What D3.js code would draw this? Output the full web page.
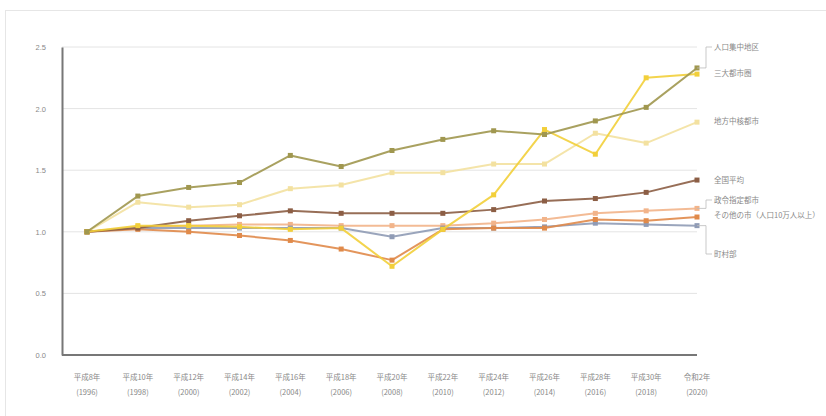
<!DOCTYPE html>
<html><head><meta charset="utf-8">
<script src="https://cdn.jsdelivr.net/npm/d3@7"></script>
<style>
html,body{margin:0;padding:0;background:#fff;}
svg{display:block;font-family:"Noto Sans CJK JP","Noto Sans",sans-serif;}
</style></head>
<body><svg id="c" width="826" height="416"></svg>
<script>
const categories = ["平成8年","平成10年","平成12年","平成14年","平成16年","平成18年","平成20年","平成22年","平成24年","平成26年","平成28年","平成30年","令和2年"];
const years = ["(1996)","(1998)","(2000)","(2002)","(2004)","(2006)","(2008)","(2010)","(2012)","(2014)","(2016)","(2018)","(2020)"];
const seriesNames = ["人口集中地区","三大都市圏","地方中核都市","全国平均","政令指定都市","その他の市（人口10万人以上）","町村部"];
const sA = [1.00,1.29,1.36,1.40,1.62,1.53,1.66,1.75,1.82,1.79,1.90,2.01,2.33];
const sB = [1.00,1.05,1.05,1.04,1.02,1.03,0.72,1.02,1.30,1.83,1.63,2.25,2.28];
const sC = [1.00,1.24,1.20,1.22,1.35,1.38,1.48,1.48,1.55,1.55,1.80,1.72,1.89];
const sD = [1.00,1.03,1.09,1.13,1.17,1.15,1.15,1.15,1.18,1.25,1.27,1.32,1.42];
const sE = [1.00,1.04,1.05,1.06,1.06,1.05,1.05,1.05,1.07,1.10,1.15,1.17,1.19];
const sF = [1.00,1.02,1.00,0.97,0.93,0.86,0.77,1.02,1.03,1.03,1.10,1.09,1.12];
const sG = [1.00,1.03,1.03,1.03,1.03,1.03,0.96,1.03,1.03,1.04,1.07,1.06,1.05];
const yTicks = [0.0,0.5,1.0,1.5,2.0,2.5];
const seriesValues = [sA,sB,sC,sD,sE,sF,sG];
const colors = ["#a0974f","#f2cf3a","#f3e1a0","#8c5e45","#f2b48a","#e08a4a","#8f9bb5"];

const svg = d3.select("#c");
svg.append("rect").attr("x",5.5).attr("y",10.5).attr("width",840).attr("height",420)
  .attr("fill","#fff").attr("stroke","#e6e6e6");

const x = d3.scalePoint().domain(d3.range(categories.length)).range([87,697]);
const y = d3.scaleLinear().domain([0,2.5]).range([355,47]);

// gridlines
svg.append("g").selectAll("line").data(yTicks.slice(1)).join("line")
  .attr("x1",62).attr("x2",697).attr("y1",d=>y(d)).attr("y2",d=>y(d))
  .attr("stroke","#e4e4e4").attr("stroke-width",1);

// y axis
const yAxis = d3.axisLeft(y).tickValues(yTicks).tickFormat(d3.format(".1f")).tickSize(0).tickPadding(16);
const gy = svg.append("g").attr("transform","translate(62,0)").call(yAxis);
gy.select(".domain").attr("stroke","#777").attr("stroke-width",2);
gy.selectAll("text").attr("fill","#888").attr("font-size",7.5);

// x axis baseline
svg.append("line").attr("x1",62).attr("x2",697).attr("y1",y(0)).attr("y2",y(0)).attr("stroke","#777").attr("stroke-width",2);

// x labels
const xl = svg.append("g");
categories.forEach((c,i)=>{
  const t = xl.append("text").attr("x",x(i)).attr("text-anchor","middle").attr("fill","#888").attr("font-size",7.5);
  t.append("tspan").attr("x",x(i)).attr("y",380).text(c);
  t.append("tspan").attr("x",x(i)).attr("y",395).text(years[i]);
});

// lines
const line = d3.line().x((d,i)=>x(i)).y(d=>y(d));
const order = [2,4,6,5,3,1,0];
order.forEach(k=>{
  const g = svg.append("g");
  g.append("path").datum(seriesValues[k]).attr("d",line).attr("fill","none")
    .attr("stroke",colors[k]).attr("stroke-width",2).attr("stroke-linejoin","round").attr("opacity",0.9);
  g.selectAll("rect").data(seriesValues[k]).join("rect")
    .attr("x",(d,i)=>x(i)-2.5).attr("y",d=>y(d)-2.5).attr("width",5).attr("height",5)
    .attr("fill",colors[k]);
});

// end labels
const labelY = [47,73,121,180,200,215,254];
const lg = svg.append("g");
seriesNames.forEach((n,k)=>{
  const vy = y(seriesValues[k][12]);
  const ly = labelY[k];
  if (Math.abs(vy-ly) > 6) {
    lg.append("path").attr("d",`M${x(12)},${vy}L706,${vy}L706,${ly}L712,${ly}`)
      .attr("fill","none").attr("stroke","#bbb").attr("stroke-width",0.8);
  }
  lg.append("text").attr("x",714).attr("y",ly+2.5).attr("fill","#888").attr("font-size",7.5).text(n);
});
</script></body></html>
